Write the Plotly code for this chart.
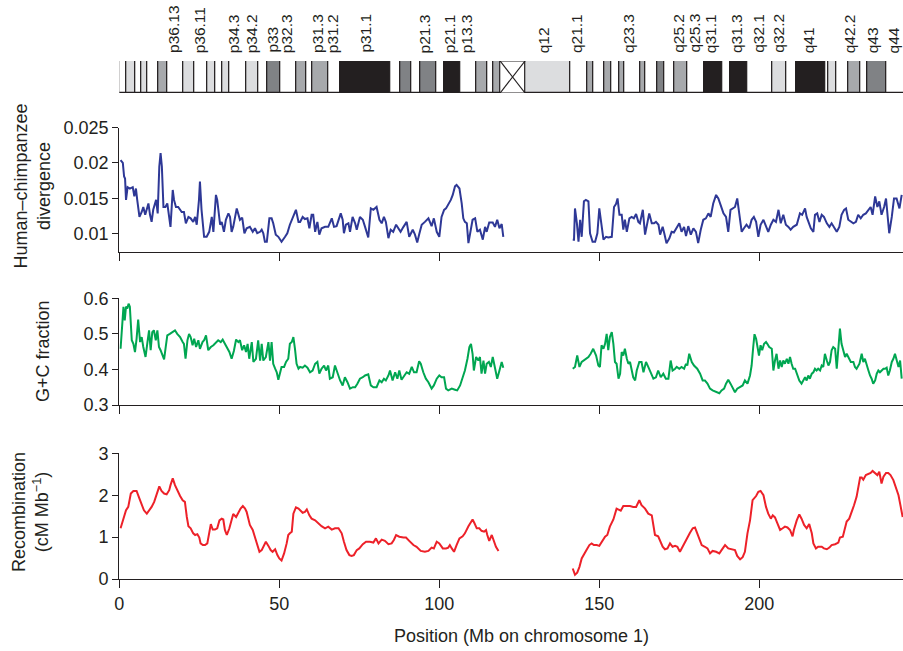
import plotly.graph_objects as go

W, H = 903, 651

# ---------------- data: (position Mb, value) ----------------
divergence_p = [(0.4,0.0204),(1.1,0.0200),(1.5,0.0181),(1.8,0.0178),(2.1,0.0148),(2.6,0.0166),(3.3,0.0164),(4.2,0.0166),(4.7,0.0153),(5.2,0.0164),(5.6,0.0148),(6.3,0.0124),(7.0,0.0131),(7.5,0.0138),(8.1,0.0127),(8.6,0.0134),(9.1,0.0143),(9.6,0.0127),(10.1,0.0117),(10.6,0.0134),(11.5,0.0148),(12.0,0.0129),(12.5,0.0195),(12.9,0.0214),(13.3,0.0195),(13.8,0.0138),(14.4,0.0138),(15.0,0.0143),(15.6,0.0124),(16.0,0.0110),(16.7,0.0162),(17.1,0.0148),(17.7,0.0138),(18.4,0.0138),(19.5,0.0131),(20.2,0.0131),(20.8,0.0115),(21.6,0.0124),(22.3,0.0122),(23.1,0.0117),(23.7,0.0124),(24.2,0.0113),(24.9,0.0148),(25.2,0.0174),(25.7,0.0134),(26.5,0.0096),(27.3,0.0096),(28.1,0.0103),(28.9,0.0124),(29.4,0.0103),(30.2,0.0155),(30.6,0.0148),(31.5,0.0113),(32.0,0.0117),(32.7,0.0103),(33.3,0.0120),(34.1,0.0129),(34.6,0.0124),(35.1,0.0103),(35.6,0.0110),(36.7,0.0136),(37.2,0.0127),(37.7,0.0120),(38.4,0.0123),(39.1,0.0101),(39.8,0.0108),(40.8,0.0110),(41.7,0.0103),(42.4,0.0108),(43.1,0.0101),(44.0,0.0103),(44.5,0.0106),(45.0,0.0101),(45.5,0.0089),(46.1,0.0089),(46.9,0.0122),(47.6,0.0122),(48.1,0.0115),(48.9,0.0099),(49.7,0.0096),(50.7,0.0089),(51.8,0.0096),(52.5,0.0101),(53.3,0.0113),(54.4,0.0124),(55.2,0.0134),(56.0,0.0117),
    (56.5,0.0117),(57.3,0.0124),(58.0,0.0121),(58.8,0.0122),(59.4,0.0108),(60.1,0.0127),(60.6,0.0127),(61.2,0.0103),(61.9,0.0117),(62.5,0.0099),(63.2,0.0108),(64.3,0.0110),(65.3,0.0110),(66.4,0.0122),(67.1,0.0110),(67.9,0.0111),(69.2,0.0129),(69.8,0.0120),(70.2,0.0101),(70.8,0.0113),(71.6,0.0115),(72.1,0.0103),(72.9,0.0124),(73.7,0.0115),(74.2,0.0106),(75.2,0.0124),(76.1,0.0120),(76.8,0.0110),(77.8,0.0095),(78.6,0.0136),(79.4,0.0134),(80.4,0.0138),(81.3,0.0120),(82.0,0.0115),(82.7,0.0124),(83.3,0.0117),(84.1,0.0094),(84.8,0.0106),(85.6,0.0103),(86.5,0.0113),(87.2,0.0108),(87.9,0.0103),(88.8,0.0110),(89.8,0.0117),(90.6,0.0096),(91.7,0.0106),(92.4,0.0099),(93.1,0.0088),(93.8,0.0101),(94.5,0.0113),(95.5,0.0117),(96.6,0.0122),(97.6,0.0111),(98.3,0.0122),(99.2,0.0103),(100.0,0.0096),(100.7,0.0124),(101.5,0.0134),(102.1,0.0136),(102.8,0.0141),(103.6,0.0148),(104.2,0.0155),(104.9,0.0167),(105.4,0.0169),(106.3,0.0164),(107.0,0.0143),(107.5,0.0122),(108.0,0.0117),(108.6,0.0115),(109.1,0.0087),(109.8,0.0103),(110.4,0.0120),(111.2,0.0122),(111.9,0.0103),(112.7,0.0106),(113.6,0.0092),(114.3,0.0110),(114.8,0.0103),(115.6,0.0116),(116.7,0.0116),(117.4,0.0110),(118.1,0.0120),(118.8,0.0108),(119.5,0.0114),(120.0,0.0096)]

divergence_q = [(141.7,0.0092),(142.1,0.0092),(142.4,0.0136),(143.0,0.0115),(143.5,0.0089),(144.0,0.0120),(144.5,0.0096),(145.2,0.0146),(145.8,0.0148),(146.6,0.0146),(147.1,0.0101),(147.9,0.0089),(148.7,0.0089),(149.4,0.0101),(150.0,0.0136),
    (150.7,0.0110),(151.3,0.0092),(152.1,0.0096),(152.8,0.0095),(153.9,0.0096),(154.6,0.0138),(155.2,0.0142),(155.7,0.0150),(156.3,0.0127),(157.0,0.0127),(157.5,0.0106),(158.0,0.0120),(158.6,0.0103),(159.4,0.0122),(160.1,0.0124),(160.8,0.0122),(161.5,0.0128),(162.2,0.0117),(162.7,0.0115),(163.6,0.0134),(164.3,0.0099),(164.8,0.0113),(165.6,0.0129),(166.4,0.0115),(167.1,0.0115),(167.7,0.0117),(168.5,0.0113),(169.0,0.0099),(169.8,0.0110),(170.3,0.0101),(171.0,0.0087),(171.9,0.0094),(172.6,0.0103),(173.3,0.0102),(174.2,0.0108),(175.0,0.0115),(175.7,0.0103),(176.5,0.0110),(177.1,0.0097),(177.8,0.0111),(178.6,0.0099),(179.4,0.0108),(180.2,0.0103),(180.9,0.0087),(181.7,0.0106),(182.5,0.0120),(183.3,0.0122),(184.1,0.0129),(184.8,0.0124),(185.6,0.0143),(186.5,0.0155),(187.2,0.0150),(187.9,0.0141),(188.8,0.0129),(189.6,0.0124),(190.3,0.0103),(191.0,0.0134),(191.9,0.0136),(192.4,0.0138),(193.1,0.0150),(193.8,0.0122),(194.5,0.0103),(195.2,0.0108),(196.0,0.0113),(196.9,0.0108),(197.6,0.0120),(198.3,0.0124),(199.0,0.0117),(199.7,0.0096),(200.4,0.0113),(201.3,0.0120),(202.1,0.0110),(202.8,0.0103),(203.6,0.0113),(204.4,0.0120),(205.2,0.0117),(206.0,0.0134),(206.7,0.0115),(207.5,0.0127),(208.3,0.0113),(209.1,0.0110),(209.8,0.0106),(210.6,0.0110),(211.7,0.0113),(212.7,0.0129),(213.4,0.0127),(214.3,0.0136),(214.8,0.0124),(215.3,0.0117),(216.1,0.0108),(216.9,0.0103),(217.4,0.0127),(218.1,0.0129),(218.8,0.0117),(219.5,0.0127),(220.2,0.0124),(221.1,0.0115),(221.9,0.0110),(222.6,0.0115),(223.3,0.0110),(224.2,0.0103),(225.0,0.0110),(225.7,0.0127),(226.5,0.0134),(227.1,0.0136),(227.8,0.0120),(228.6,0.0117),(229.4,0.0115),(230.2,0.0117),(230.9,0.0127),(231.7,0.0122),(232.5,0.0127),(233.3,0.0129),(234.1,0.0134),(234.8,0.0138),(235.4,0.0127),(236.2,0.0153),(236.9,0.0138),(237.5,0.0146),(238.2,0.0127),(239.0,0.0138),(239.6,0.0150),(240.0,0.0134),(240.6,0.0101),(241.4,0.0124),(242.1,0.0150),(242.9,0.0150),(243.8,0.0136),(244.5,0.0155)]

gc_p = [(0.4,0.458),(0.85,0.519),(1.3,0.576),(1.7,0.538),(2.1,0.577),(2.5,0.571),(2.9,0.585),(3.3,0.576),(3.9,0.482),(4.4,0.472),(4.9,0.449),(5.4,0.486),(5.9,0.540),(6.5,0.477),(7.0,0.491),(7.5,0.463),(8.2,0.435),(8.8,0.477),(9.3,0.510),(9.8,0.454),(10.3,0.505),(10.8,0.510),(11.4,0.482),(11.9,0.510),(12.4,0.463),(12.9,0.454),(13.4,0.439),(14.0,0.428),(14.5,0.463),(15.0,0.496),(15.8,0.500),(16.7,0.505),(17.4,0.510),(18.1,0.500),(19.0,0.491),(19.8,0.477),(20.2,0.472),(20.7,0.430),(21.3,0.482),(21.8,0.500),(22.3,0.491),(22.9,0.468),(23.4,0.486),(24.0,0.463),(24.7,0.482),(25.2,0.458),(26.0,0.477),(26.5,0.482),(27.1,0.496),(27.8,0.454),(28.6,0.463),(29.4,0.468),(30.2,0.477),(30.9,0.482),(31.7,0.477),(32.3,0.484),(33.0,0.472),(33.6,0.463),(34.4,0.449),(35.1,0.430),(35.8,0.452),(36.5,0.484),(37.2,0.477),(37.7,0.482),(38.4,0.454),(39.0,0.468),(39.6,0.449),(40.1,0.472),(40.6,0.430),(41.4,0.477),(41.9,0.421),(42.7,0.430),(43.4,0.482),(44.0,0.425),(44.5,0.472),(45.0,0.425),(45.8,0.435),(46.6,0.477),(47.1,0.425),(47.6,0.477),(48.1,0.416),(48.7,0.402),(49.2,0.392),(49.7,0.371),(50.2,0.388),(50.7,0.407),(51.5,0.407),(52.1,0.421),(52.8,0.430),(53.3,0.472),(53.9,0.477),(54.4,0.491),(54.9,0.458),(55.4,0.416),(56.0,0.402),
    (56.5,0.407),(57.3,0.405),(58.0,0.411),(58.8,0.405),(59.6,0.392),(60.4,0.397),(61.2,0.416),(61.9,0.421),(62.5,0.388),(63.2,0.402),(64.0,0.411),(64.6,0.397),(65.3,0.411),(65.8,0.374),(66.7,0.378),(67.4,0.411),(68.1,0.392),(69.0,0.369),(69.8,0.355),(70.5,0.378),(71.3,0.364),(72.1,0.346),(73.0,0.350),(73.7,0.350),(74.4,0.360),(75.2,0.374),(76.1,0.378),(76.8,0.383),(77.8,0.386),(78.6,0.355),(79.4,0.350),(80.4,0.350),(81.3,0.369),(82.0,0.364),(82.7,0.374),(83.3,0.369),(84.1,0.383),(84.6,0.397),(85.4,0.369),(86.2,0.392),(86.9,0.374),(87.5,0.397),(88.2,0.371),(89.0,0.383),(89.8,0.392),(90.6,0.388),(91.4,0.407),(92.1,0.392),(92.9,0.392),(93.7,0.423),(94.2,0.416),(95.0,0.392),(95.8,0.374),(96.6,0.364),(97.6,0.346),(98.3,0.355),(99.2,0.374),(100.0,0.383),(100.7,0.378),(101.5,0.378),(102.1,0.346),(102.8,0.341),(103.9,0.346),(104.9,0.343),(105.6,0.341),(106.5,0.355),(107.3,0.378),(108.0,0.397),(108.8,0.430),(109.4,0.463),(109.9,0.472),(110.4,0.444),(110.8,0.397),(111.5,0.435),(112.2,0.425),(112.7,0.435),(113.2,0.388),(113.8,0.425),(114.3,0.388),(114.8,0.416),(115.5,0.421),(116.1,0.407),(116.7,0.435),(117.4,0.402),(118.1,0.374),(118.8,0.397),(119.5,0.421),(120.0,0.405)]

gc_q = [(141.7,0.402),(142.4,0.407),(143.1,0.439),(143.8,0.407),(144.5,0.421),(145.2,0.425),(145.8,0.430),(146.6,0.435),(147.3,0.444),(148.1,0.458),(149.0,0.439),(149.7,0.411),(150.2,0.407),
    (150.7,0.468),(151.3,0.458),(151.8,0.472),(152.3,0.500),(152.8,0.454),(153.3,0.491),(153.9,0.505),(154.4,0.472),(154.9,0.421),(155.4,0.416),(156.0,0.374),(156.5,0.388),(157.0,0.449),(157.5,0.439),(158.0,0.458),(158.6,0.430),(159.1,0.416),(159.6,0.421),(160.1,0.397),(160.6,0.378),(161.2,0.369),(161.7,0.397),(162.5,0.421),(163.2,0.421),(163.8,0.392),(164.6,0.421),(165.3,0.407),(166.1,0.392),(166.9,0.374),(167.7,0.378),(168.4,0.397),(169.2,0.378),(170.0,0.388),(170.8,0.374),(171.6,0.374),(172.3,0.425),(172.9,0.397),(173.7,0.402),(174.2,0.407),(175.0,0.402),(175.7,0.407),(176.5,0.402),(177.1,0.416),(177.5,0.411),(178.1,0.444),(178.9,0.421),(179.6,0.411),(180.6,0.402),(181.5,0.388),(182.3,0.369),(183.0,0.369),(183.8,0.360),(184.6,0.346),(185.4,0.341),(186.5,0.336),(187.5,0.333),(188.2,0.341),(189.0,0.346),(189.6,0.360),(190.3,0.371),(191.0,0.360),(191.7,0.346),(192.4,0.336),(193.1,0.346),(194.0,0.350),(194.8,0.355),(195.5,0.369),(196.3,0.360),(197.1,0.383),(197.6,0.411),(198.1,0.463),(198.5,0.499),(199.0,0.486),(199.4,0.468),(199.9,0.439),(200.4,0.468),(200.9,0.454),(201.5,0.472),(202.1,0.477),(202.5,0.472),(203.1,0.463),(203.9,0.458),(204.4,0.397),(204.9,0.425),(205.4,0.444),(206.0,0.402),(206.5,0.425),(207.0,0.407),(207.5,0.425),(208.0,0.416),(208.6,0.430),(209.1,0.416),(209.6,0.435),(210.1,0.416),(210.6,0.402),(211.2,0.402),(211.7,0.388),(212.5,0.369),(213.2,0.360),(213.8,0.369),(214.3,0.378),(214.8,0.369),(215.3,0.383),(215.8,0.374),(216.4,0.388),(216.9,0.392),(217.4,0.402),(217.9,0.397),(218.4,0.402),(219.0,0.397),(219.5,0.411),(220.0,0.407),(220.5,0.444),(221.1,0.425),(221.6,0.411),(222.1,0.421),(222.6,0.454),(223.1,0.463),(223.7,0.458),(224.2,0.402),(224.7,0.472),(225.2,0.515),(225.7,0.472),(226.3,0.449),(226.8,0.435),(227.3,0.444),(227.8,0.435),(228.6,0.421),(229.4,0.421),(229.9,0.407),(230.4,0.402),(231.3,0.416),(232.0,0.444),(232.5,0.421),(233.0,0.430),(233.6,0.407),(234.1,0.397),(234.6,0.383),(235.1,0.374),(235.6,0.360),(236.2,0.369),(236.7,0.388),(237.2,0.397),(237.7,0.392),(238.2,0.397),(238.8,0.402),(239.3,0.402),(239.8,0.405),(240.3,0.383),(240.8,0.397),(241.4,0.421),(241.9,0.430),(242.4,0.444),(242.9,0.425),(243.5,0.407),(244.0,0.425),(244.5,0.374)]

recomb_p = [(0.4,1.21),(1.05,1.40),(1.5,1.52),(2.1,1.64),(2.8,1.72),(3.6,2.04),(4.4,2.10),(5.4,2.10),(6.3,1.92),(7.0,1.76),(7.7,1.64),(8.6,1.56),(9.4,1.64),(10.1,1.72),(10.9,1.84),(11.7,2.00),(12.5,2.21),(13.2,2.10),(14.0,2.04),(14.8,2.02),(15.6,2.12),(16.0,2.24),(16.7,2.40),(17.4,2.24),(18.1,2.12),(19.0,1.98),(19.8,1.88),(20.5,1.84),(21.1,1.48),(21.6,1.26),(22.3,1.21),(23.1,1.09),(23.7,1.05),(24.4,1.07),(25.0,0.99),(25.4,0.85),(26.1,0.81),(26.8,0.81),(27.5,0.85),(28.1,1.09),(28.6,1.31),(29.2,1.18),(29.9,1.18),(30.6,1.21),(31.3,1.40),(32.0,1.44),(32.5,1.42),(33.0,1.17),(33.6,1.05),(34.4,1.21),(35.1,1.40),(35.6,1.55),(36.5,1.48),(37.2,1.60),(37.9,1.68),(38.6,1.74),(39.3,1.68),(39.8,1.60),(40.3,1.44),(40.8,1.29),(41.7,1.17),(42.4,1.01),(42.9,0.85),(43.8,0.65),(44.5,0.69),(45.2,0.81),(45.8,0.89),(46.6,0.79),(47.3,0.69),(47.9,0.65),(48.7,0.71),(49.4,0.57),(50.0,0.49),(50.7,0.44),(51.5,0.61),(52.3,0.85),(52.8,1.05),(53.3,1.09),(53.9,1.13),(54.4,1.56),(55.2,1.71),(56.0,1.68),
    (57.3,1.58),(58.0,1.60),(58.6,1.66),(59.4,1.52),(60.1,1.44),(61.2,1.40),(62.2,1.33),(63.2,1.26),(64.3,1.21),(65.3,1.25),(66.4,1.18),(67.4,1.21),(68.5,1.21),(69.5,1.09),(70.2,0.89),(71.0,0.69),(71.9,0.57),(72.6,0.55),(73.3,0.57),(74.2,0.69),(75.0,0.73),(76.1,0.83),(77.1,0.89),(78.3,0.89),(79.4,0.87),(80.2,0.97),(81.0,0.85),(82.0,0.94),(83.0,0.91),(84.1,0.83),(85.1,0.85),(85.8,0.93),(86.5,1.05),(87.5,1.01),(88.8,0.99),(89.6,0.99),(90.6,0.91),(91.9,0.81),(92.9,0.77),(94.2,0.67),(95.5,0.65),(96.6,0.67),(97.6,0.75),(98.3,0.73),(99.2,0.89),(100.0,0.85),(101.1,0.73),(102.1,0.73),(102.8,0.75),(103.3,0.81),(103.9,0.73),(104.6,0.65),(105.4,0.81),(106.3,0.97),(107.3,1.02),(108.0,1.09),(109.1,1.26),(109.8,1.34),(110.4,1.42),(111.0,1.33),(111.7,1.21),(112.5,1.21),(113.2,1.15),(114.0,1.13),(114.6,1.17),(115.0,1.05),(115.6,0.91),(116.4,1.05),(116.9,0.93),(117.7,0.77),(118.5,0.67)]

recomb_q = [(141.7,0.25),(142.4,0.10),(143.1,0.15),(143.8,0.29),(144.5,0.49),(145.2,0.57),(146.0,0.69),(146.9,0.81),(147.6,0.85),(148.3,0.81),(149.2,0.81),(150.0,0.79),
    (151.1,0.91),(151.8,1.01),(152.5,1.05),(153.3,1.25),(154.4,1.42),(155.4,1.68),(155.9,1.66),(156.7,1.63),(157.5,1.74),(158.6,1.74),(159.6,1.74),(160.6,1.72),(161.5,1.72),(162.5,1.88),(163.2,1.76),(164.3,1.68),(165.3,1.56),(166.4,1.52),(166.9,1.25),(167.4,1.05),(168.4,1.02),(169.2,0.89),(169.8,0.77),(170.5,0.71),(171.3,0.73),(172.1,0.85),(172.9,0.77),(173.7,0.79),(174.4,0.77),(175.2,0.65),(176.0,0.77),(176.8,0.89),(177.5,1.01),(178.3,1.10),(179.2,1.21),(179.9,1.23),(180.4,1.13),(181.3,0.93),(182.0,0.81),(183.0,0.77),(183.8,0.73),(184.6,0.61),(185.4,0.67),(186.5,0.65),(187.5,0.61),(188.2,0.69),(189.3,0.81),(190.3,0.73),(191.4,0.71),(192.4,0.69),(193.1,0.55),(194.0,0.47),(194.8,0.52),(195.5,0.65),(196.3,1.09),(197.1,1.40),(197.9,1.88),(199.0,1.98),(199.7,2.08),(200.4,2.10),(201.3,2.00),(202.1,1.72),(202.8,1.56),(203.6,1.44),(204.2,1.52),(204.9,1.47),(205.6,1.34),(206.5,1.17),(207.3,1.21),(208.0,1.25),(208.8,1.23),(209.6,1.17),(210.4,1.02),(210.8,1.17),(211.7,1.40),(212.5,1.54),(213.2,1.44),(214.0,1.29),(214.8,1.21),(215.6,1.31),(216.4,1.09),(216.9,0.85),(217.7,0.73),(218.4,0.77),(219.5,0.77),(220.2,0.73),(221.1,0.71),(221.9,0.75),(222.6,0.81),(223.7,0.83),(224.7,0.87),(225.2,0.99),(226.1,1.01),(226.8,1.21),(227.3,1.37),(228.1,1.44),(228.9,1.60),(229.6,1.76),(230.4,1.96),(230.9,2.20),(231.5,2.42),(232.0,2.42),(232.5,2.37),(233.3,2.48),(234.1,2.50),(234.8,2.53),(235.4,2.58),(236.2,2.52),(236.9,2.48),(237.5,2.56),(238.2,2.28),(238.8,2.44),(239.6,2.53),(240.3,2.53),(241.0,2.48),(241.9,2.36),(242.7,2.20),(243.5,2.00),(244.2,1.72),(244.8,1.48)]

# ---------------- ideogram ----------------
band_start = [0, 2.3, 5.1, 7.0, 8.9, 12.2, 15.1, 20.0, 23.4, 27.6, 29.9, 32.2, 34.3, 39.8, 43.5, 46.4, 50.2, 55.4, 58.3, 60.4, 65.3, 69.0, 84.6, 87.7, 91.4, 94.2, 99.2, 101.5, 106.5, 111.5, 115.0, 116.9,
              126.8, 140.8, 146.1, 148.1, 151.5, 153.9, 156.25, 157.7, 162.7, 164.5, 168.1, 170.2, 173.3, 177.5, 182.7, 188.3, 190.8, 196.1, 204.2, 208.3, 211.5, 220.5, 221.6, 224.0, 227.8, 231.7, 233.6, 239.8]
band_end = [2.3, 5.1, 7.0, 8.9, 12.2, 15.1, 20.0, 23.4, 27.6, 29.9, 32.2, 34.3, 39.8, 43.5, 46.4, 50.2, 55.4, 58.3, 60.4, 65.3, 69.0, 84.6, 87.7, 91.4, 94.2, 99.2, 101.5, 106.5, 111.5, 115.0, 116.9, 119.0,
            140.8, 146.1, 148.1, 151.5, 153.9, 156.25, 157.7, 162.7, 164.5, 168.1, 170.2, 173.3, 177.5, 182.7, 188.3, 190.8, 196.1, 204.2, 208.3, 211.5, 220.5, 221.6, 224.0, 227.8, 231.7, 233.6, 239.8, 246.0]
band_stain = ["gneg", "gpos25", "gneg", "gpos25", "gneg", "gpos50", "gneg", "gpos25", "gneg", "gpos25", "gneg", "gpos25", "gneg", "gpos25", "gneg", "gpos75", "gneg", "gpos50", "gneg", "gpos50", "gneg", "gpos100", "gneg", "gpos75", "gneg", "gpos75", "gneg", "gpos100", "gneg", "gpos50", "gneg", "gpos50",
              "gvar", "gneg", "gpos50", "gneg", "gpos50", "gneg", "gpos50", "gneg", "gpos50", "gneg", "gpos75", "gneg", "gpos50", "gneg", "gpos100", "gneg", "gpos100", "gneg", "gpos25", "gneg", "gpos100", "gneg", "gpos25", "gneg", "gpos50", "gneg", "gpos75", "gneg"]
centromere = (119.0, 126.8)

band_label_names = ["p36.13", "p36.11", "p34.3", "p34.2", "p33", "p32.3", "p31.3", "p31.2", "p31.1", "p21.3", "p21.1", "p13.3",
                    "q12", "q21.1", "q23.3", "q25.2", "q25.3", "q31.1", "q31.3", "q32.1", "q32.2", "q41", "q42.2", "q43", "q44"]
band_label_pos = [16.9, 25.0, 35.8, 41.4, 47.6, 52.3, 61.9, 66.7, 76.8, 95.5, 103.3, 108.6,
                  132.5, 142.9, 159.1, 174.7, 179.6, 184.8, 192.9, 199.7, 205.9, 215.3, 228.3, 235.3, 241.9]

x_ticks = [0, 50, 100, 150, 200]
div_ticks = [0.01, 0.015, 0.02, 0.025]
div_tick_text = ["0.01", "0.015", "0.02", "0.025"]
gc_ticks = [0.3, 0.4, 0.5, 0.6]
rec_ticks = [0, 1, 2, 3]

# ---------------- styling ----------------
INK = "#231f20"
FONT = "Liberation Sans, Arial, Helvetica, sans-serif"
STAIN_COLOR = {"gneg": "#ffffff", "gpos25": "#dcdddf", "gpos50": "#a7a9ac",
               "gpos75": "#808285", "gpos100": "#231f20", "gvar": "#dcdddf"}
X_RANGE = [0, (W - 119.3) / 3.2]
X_DOM = [119.3 / W, 1.0]


def py(px):
    return 1 - px / H


def joined(p_arm, q_arm):
    xs = [a for a, _ in p_arm] + [None] + [a for a, _ in q_arm]
    ys = [b for _, b in p_arm] + [None] + [b for _, b in q_arm]
    return xs, ys


fig = go.Figure()

series = [(divergence_p, divergence_q, "#2e3896", "y"),
          (gc_p, gc_q, "#00a651", "y2"),
          (recomb_p, recomb_q, "#ed2129", "y3")]
xnames = {"y": "x", "y2": "x2", "y3": "x3"}
for p_arm, q_arm, col, yname in series:
    xs, ys = joined(p_arm, q_arm)
    fig.add_trace(go.Scatter(x=xs, y=ys, mode="lines", line=dict(color=col, width=2),
                             xaxis=xnames[yname], yaxis=yname, showlegend=False,
                             hoverinfo="skip", connectgaps=False))

# ideogram bands as horizontal bars
fig.add_trace(go.Bar(y=[0.5] * len(band_start), x=[e - s for s, e in zip(band_start, band_end)],
                     base=band_start, orientation="h", width=1,
                     marker=dict(color=[STAIN_COLOR[s] for s in band_stain],
                                 line=dict(color=INK, width=1.2)),
                     xaxis="x4", yaxis="y4", showlegend=False, hoverinfo="skip"))
c0, c1 = centromere
fig.add_trace(go.Scatter(x=[c0, c1, None, c0, c1, None, c0, c1, None, c0, c1],
                         y=[0, 1, None, 1, 0, None, 0, 0, None, 1, 1],
                         mode="lines", line=dict(color=INK, width=1.2),
                         xaxis="x4", yaxis="y4", showlegend=False, hoverinfo="skip"))

axis_common = dict(showline=True, linecolor=INK, linewidth=1.3, ticks="outside",
                   tickcolor=INK, tickwidth=1.3, showgrid=False, zeroline=False,
                   automargin=False,
                   tickfont=dict(family=FONT, size=18, color=INK))

xa = dict(axis_common, domain=X_DOM, range=X_RANGE, tickvals=x_ticks, ticklen=8)
fig.update_layout(
    width=W, height=H, margin=dict(l=0, r=0, t=0, b=0, autoexpand=False),
    paper_bgcolor="white", plot_bgcolor="rgba(0,0,0,0)",
    xaxis=dict(xa, anchor="y", showticklabels=False),
    xaxis2=dict(xa, anchor="y2", showticklabels=False),
    xaxis3=dict(xa, anchor="y3", showticklabels=True),
    xaxis4=dict(domain=X_DOM, range=X_RANGE, anchor="y4", visible=False),
    yaxis=dict(axis_common, domain=[py(251.7), py(127.5)], range=[0.0075, 0.025],
               tickvals=div_ticks, ticktext=div_tick_text, ticklen=6, anchor="x"),
    yaxis2=dict(axis_common, domain=[py(405), py(298.3)], range=[0.3, 0.6],
                tickvals=gc_ticks, ticktext=[f"{v:.1f}" for v in gc_ticks], ticklen=6, anchor="x2"),
    yaxis3=dict(axis_common, domain=[py(579), py(453.3)], range=[0, 3],
                tickvals=rec_ticks, ticklen=6, anchor="x3"),
    yaxis4=dict(domain=[py(93), py(61)], range=[0, 1], anchor="x4", visible=False),
    showlegend=False, bargap=0,
)

ann = []
title_font = dict(family=FONT, size=18, color=INK)
ann.append(dict(text="Human–chimpanzee<br>divergence", x=31.5 / W, y=py(186), xref="paper", yref="paper",
                textangle=-90, showarrow=False, font=title_font, xanchor="center", yanchor="middle"))
ann.append(dict(text="G+C fraction", x=43 / W, y=py(351), xref="paper", yref="paper",
                textangle=-90, showarrow=False, font=title_font, xanchor="center", yanchor="middle"))
ann.append(dict(text="Recombination<br>(cM Mb<sup>−1</sup>)", x=30 / W, y=py(512), xref="paper", yref="paper",
                textangle=-90, showarrow=False, font=title_font, xanchor="center", yanchor="middle"))
ann.append(dict(text="Position (Mb on chromosome 1)", x=521.5 / W, y=py(636), xref="paper", yref="paper",
                showarrow=False, font=title_font, xanchor="center", yanchor="middle"))
for name, pos in zip(band_label_names, band_label_pos):
    ann.append(dict(text=name, x=pos, y=py(55), xref="x4", yref="paper", textangle=-90,
                    showarrow=False, xanchor="center", yanchor="bottom",
                    font=dict(family=FONT, size=15.5, color=INK)))
fig.update_layout(annotations=ann)

fig.write_html("out.html", config={"displayModeBar": False}, post_script=(
    "document.documentElement.style.margin='0';document.documentElement.style.padding='0';"
    "document.body.style.margin='0';document.body.style.padding='0';"
    "document.body.style.overflow='hidden';document.documentElement.style.overflow='hidden';"
))
